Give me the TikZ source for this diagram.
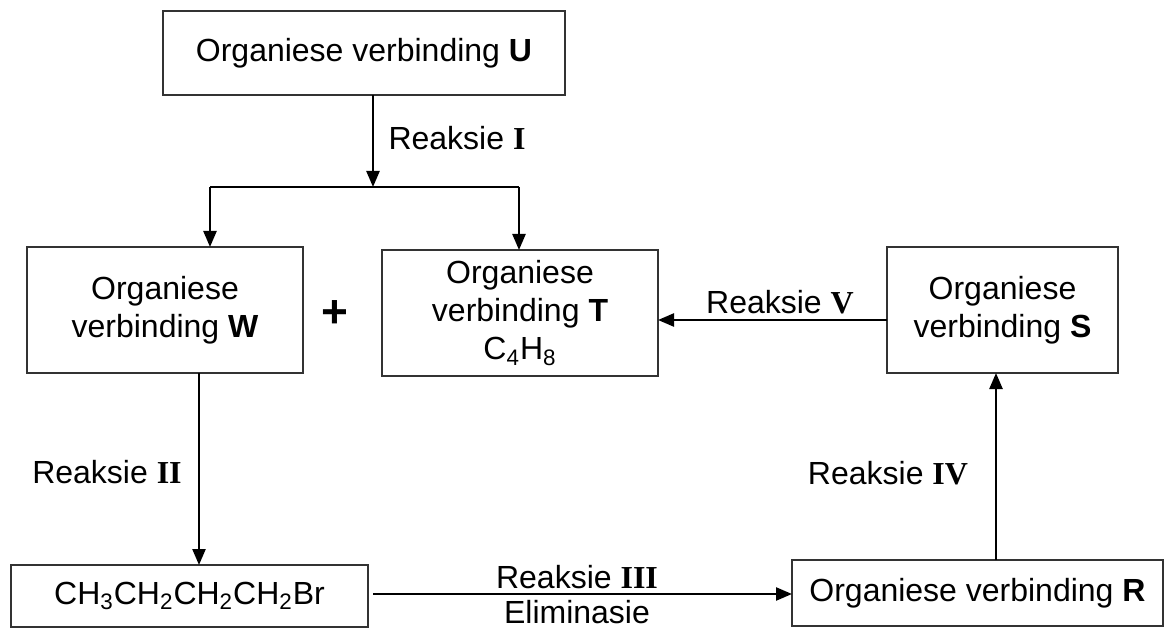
\documentclass[tikz,border=0pt]{standalone}
\usepackage{fontspec}
\setmainfont{Liberation Sans}
\newfontfamily\romfont{Liberation Serif}
\usetikzlibrary{arrows.meta,calc}
\newcommand{\rn}[1]{{\romfont\bfseries #1}}
\newcommand{\sbs}[1]{\textsubscript{#1}}
\begin{document}
\begin{tikzpicture}[x=0.5pt,y=-0.5pt,
  box/.style={draw=black!80,line width=0.8pt,inner sep=0pt,outer sep=0pt,align=center,
    font=\fontsize{16}{19}\selectfont},
  lbl/.style={inner sep=0pt,font=\fontsize{16}{18.5}\selectfont},
  arr/.style={line width=1.2pt,-{Triangle[length=8pt,width=6.5pt]}},
  ln/.style={line width=1.2pt}]
\useasboundingbox (0,0) rectangle (1166,630);
% boxes
\node[box,minimum width=201pt,minimum height=42pt] (U) at (364,53) {Organiese verbinding \textbf{U}};
\node[box,minimum width=138pt,minimum height=63pt] (W) at (165,310) {Organiese\\verbinding \textbf{W}};
\node[box,minimum width=138pt,minimum height=63pt] (T) at (520,313) {Organiese\\verbinding \textbf{T}\\C\sbs{4}H\sbs{8}};
\node[box,minimum width=115.5pt,minimum height=63pt] (S) at (1002.5,310) {Organiese\\verbinding \textbf{S}};
\node[box,minimum width=178.5pt,minimum height=31pt] (B) at (189.5,596) {CH\sbs{3}CH\sbs{2}CH\sbs{2}CH\sbs{2}Br};
\node[box,minimum width=185.5pt,minimum height=33pt] (R) at (977.5,593) {Organiese verbinding \textbf{R}};
\node[lbl,font=\fontsize{23}{25}\selectfont\bfseries] (plus) at (335,314) {+};
% helper coordinates
\coordinate (J) at (373,187);
\coordinate (JL) at (210,187);
\coordinate (JR) at (519,187);
\coordinate (vy) at (0,320);
\coordinate (xw) at (199,0);
\coordinate (hy) at (0,594);
\coordinate (xr) at (996,0);
% connectors
\draw[arr] (U.south -| J) -- (J);
\draw[ln] (JL) -- (JR);
\draw[arr] (JL) -- (W.north -| JL);
\draw[arr] (JR) -- (T.north -| JR);
\draw[arr] (S.west |- vy) -- (T.east |- vy);
\draw[arr] (W.south -| xw) -- (B.north -| xw);
\draw[arr,shorten <=2.5pt] (B.east |- hy) -- (R.west |- hy);
\draw[arr] (R.north -| xr) -- (S.south -| xr);
% labels
\node[lbl] (l1) at (457,138) {Reaksie \rn{I}};
\node[lbl] (l5) at (780,302) {Reaksie \rn{V}};
\node[lbl] (l2) at (107,472) {Reaksie \rn{II}};
\node[lbl] (l4) at (888,473) {Reaksie \rn{IV}};
\node[lbl] (l3) at (577,577) {Reaksie \rn{III}};
\node[lbl] (l3b) at (577,612) {Eliminasie};
\end{tikzpicture}
\end{document}
